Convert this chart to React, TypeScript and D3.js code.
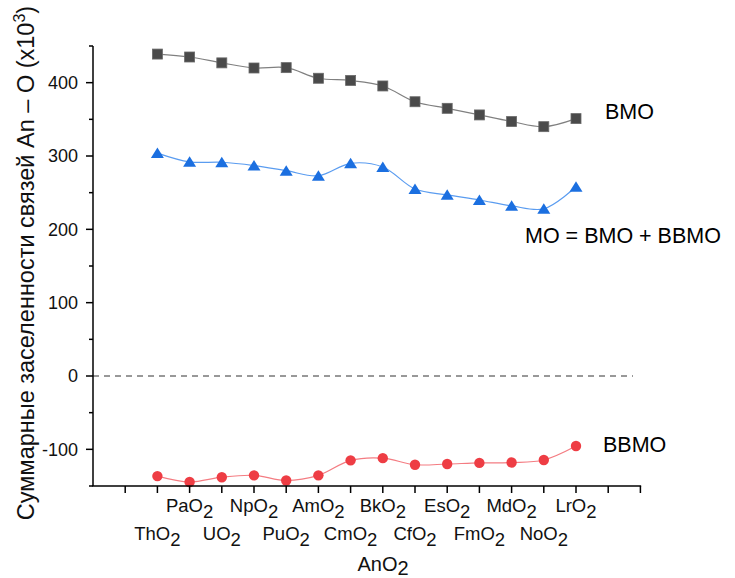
import React from "react";
import * as d3 from "d3";

const categories = ["ThO", "PaO", "UO", "NpO", "PuO", "AmO", "CmO", "BkO", "CfO", "EsO", "FmO", "MdO", "NoO", "LrO"];
const bmo = [439, 435, 427, 420, 420.5, 406, 403, 395.5, 374, 365, 356, 347, 340, 351];
const mo = [304, 292, 291.5, 287, 280, 273, 290, 285, 255, 247, 240, 232, 228, 258];
const bbmo = [-136.5, -144.5, -138, -135.5, -142.5, -135.5, -115, -112, -121, -120, -118.5, -118, -114.5, -95.5];
const yTicks = [-100, 0, 100, 200, 300, 400];
const yMinor = [-150, -50, 50, 150, 250, 350, 450];

const W = 735;
const H = 578;
const FONT = "Arial, 'Liberation Sans', sans-serif";

export default function App() {
  const x = d3.scaleLinear().domain([0, 17]).range([93, 640.4]);
  const y = d3.scaleLinear().domain([-150, 450]).range([486, 46]);
  const pos = (i: number) => x(i + 2);

  const line = d3
    .line<number>()
    .x((_, i) => pos(i))
    .y((d) => y(d))
    .curve(d3.curveCatmullRom.alpha(0.5));

  const xTicks = d3.range(1, 18);

  return (
    <svg
      width={W}
      height={H}
      style={{ position: "absolute", left: 0, top: 0, background: "#fff" }}
      fontFamily={FONT}
    >
      {/* zero line */}
      <line
        x1={x(0)}
        x2={633}
        y1={y(0)}
        y2={y(0)}
        stroke="#333"
        strokeWidth={1}
        strokeDasharray="6,5"
      />

      {/* series lines */}
      <path d={line(bmo) || ""} fill="none" stroke="#808080" strokeWidth={1.2} />
      <path d={line(mo) || ""} fill="none" stroke="#5a9cf0" strokeWidth={1.2} />
      <path d={line(bbmo) || ""} fill="none" stroke="#f47c82" strokeWidth={1.2} />

      {/* markers */}
      {bmo.map((v, i) => (
        <rect
          key={"s" + i}
          x={pos(i) - 5}
          y={y(v) - 5}
          width={10}
          height={10}
          fill="#4a4a4a"
          stroke="#6a6a6a"
          strokeWidth={0.8}
        />
      ))}
      {mo.map((v, i) => {
        const cx = pos(i);
        const cy = y(v);
        return (
          <path
            key={"t" + i}
            d={`M${cx},${cy - 5.5}L${cx + 6.5},${cy + 5}L${cx - 6.5},${cy + 5}Z`}
            fill="#1b6fe0"
          />
        );
      })}
      {bbmo.map((v, i) => (
        <circle key={"c" + i} cx={pos(i)} cy={y(v)} r={5.2} fill="#ee3d44" />
      ))}

      {/* axes */}
      <line x1={x(0)} x2={x(0)} y1={y(450)} y2={y(-150)} stroke="#000" strokeWidth={1.5} />
      <line x1={x(0) - 0.75} x2={x(17) + 0.75} y1={y(-150)} y2={y(-150)} stroke="#000" strokeWidth={1.5} />
      {yTicks.map((t) => (
        <g key={"yt" + t}>
          <line x1={x(0) - 7} x2={x(0)} y1={y(t)} y2={y(t)} stroke="#000" strokeWidth={1.5} />
          <text x={78} y={y(t)} dy="0.36em" textAnchor="end" fontSize={18} fill="#111">
            {t}
          </text>
        </g>
      ))}
      {yMinor.map((t) => (
        <line key={"ym" + t} x1={x(0) - 4} x2={x(0)} y1={y(t)} y2={y(t)} stroke="#000" strokeWidth={1.5} />
      ))}
      {xTicks.map((t) => (
        <line key={"xt" + t} x1={x(t)} x2={x(t)} y1={y(-150)} y2={y(-150) + 7} stroke="#000" strokeWidth={1.5} />
      ))}
      {categories.map((c, i) => (
        <text
          key={"xl" + i}
          x={pos(i)}
          y={i % 2 === 1 ? 512 : 540}
          textAnchor="middle"
          fontSize={18.5}
          fill="#111"
        >
          {c}
          <tspan dy={6}>2</tspan>
        </text>
      ))}

      {/* axis titles */}
      <text x={383} y={571} textAnchor="middle" fontSize={20} fill="#111">
        AnO<tspan dy={4}>2</tspan>
      </text>
      <text
        transform={`translate(34,${263}) rotate(-90)`}
        textAnchor="middle"
        fontSize={23.5}
        fill="#111"
      >
        Суммарные заселенности связей An – O (x10
        <tspan dy={-9} fontSize={16}>3</tspan>
        <tspan dy={9}>)</tspan>
      </text>

      {/* series labels */}
      <text x={605} y={119} fontSize={21.5} fill="#000">BMO</text>
      <text x={525} y={243} fontSize={21.5} fill="#000">MO = BMO + BBMO</text>
      <text x={603} y={452} fontSize={21.5} fill="#000">BBMO</text>
    </svg>
  );
}
